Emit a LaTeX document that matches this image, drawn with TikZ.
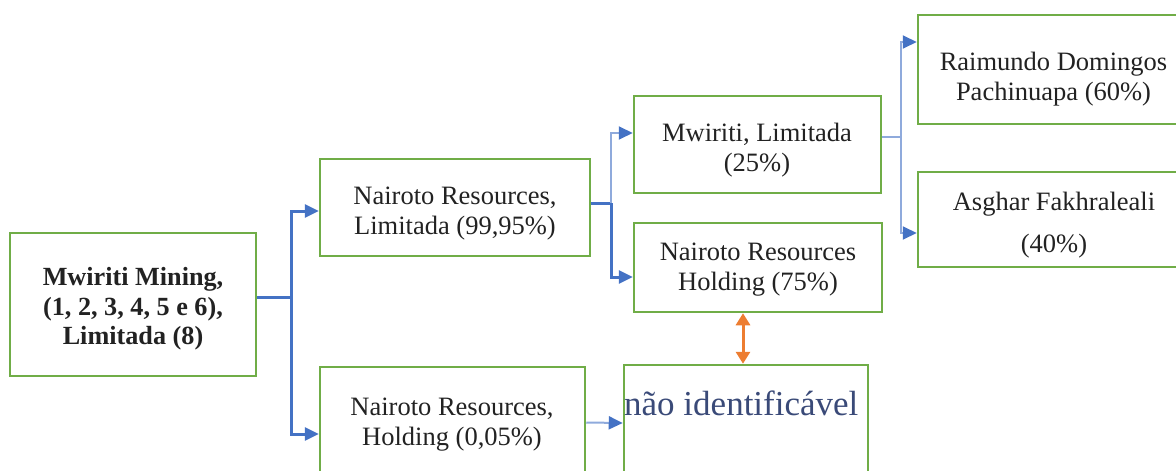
\documentclass[tikz,border=0pt]{standalone}
\usepackage{fontspec}
\setmainfont{Liberation Serif}
\usetikzlibrary{arrows.meta}
\definecolor{boxgreen}{HTML}{70AD47}
\definecolor{linkblue}{HTML}{4472C4}
\definecolor{lightblue}{HTML}{8FAADC}
\definecolor{orng}{HTML}{ED7D31}
\definecolor{txtcol}{HTML}{222222}
\definecolor{naocol}{HTML}{3A4A78}
\tikzset{
  box/.style={draw=boxgreen, line width=2.5pt, rectangle, inner sep=0pt},
  txt/.style={align=center, inner sep=0pt, text=txtcol, font=\fontsize{26.5}{30}\selectfont},
  thick link/.style={draw=linkblue, line width=3pt, -{Triangle[length=14pt,width=13pt,color=linkblue]}},
  thin link/.style={draw=lightblue, line width=2pt, -{Triangle[length=14pt,width=13pt,color=linkblue]}},
  thin line/.style={draw=lightblue, line width=2pt},
  thick line/.style={draw=linkblue, line width=3pt},
  both/.style={draw=orng, line width=3pt, {Triangle[length=12pt,width=14pt]}-{Triangle[length=12pt,width=14pt]}}
}
\begin{document}
\begin{tikzpicture}[x=1pt,y=-1pt]
\useasboundingbox (0,0) rectangle (1176,471);
% boxes
\node[box, minimum width=246pt, minimum height=143pt] (main) at (133,304.5) {};
\node[box, minimum width=270pt, minimum height=97pt] (nrl) at (455,207.5) {};
\node[box, minimum width=265pt, minimum height=106pt] (nrh05) at (452.5,420) {};
\node[box, minimum width=247pt, minimum height=97pt] (mwl) at (757.5,144.5) {};
\node[box, minimum width=248pt, minimum height=89pt] (nrh75) at (758,267.5) {};
\node[box, minimum width=272pt, minimum height=109pt] (rdp) at (1054,69.5) {};
\node[box, minimum width=272pt, minimum height=95pt] (asg) at (1054,219.5) {};
\node[box, minimum width=244pt, minimum height=111pt] (nao) at (746,420.5) {};
% texts
\node[txt, font=\fontsize{26.2}{29.5}\selectfont\bfseries] (tmain) at (133,309) {Mwiriti Mining,\\(1, 2, 3, 4, 5 e 6),\\Limitada (8)};
\node[txt] (tnrl) at (455,213.5) {Nairoto Resources,\\Limitada (99,95\%)};
\node[txt] (tnrh05) at (452,425) {Nairoto Resources,\\Holding (0,05\%)};
\node[txt] (tmwl) at (757,150) {Mwiriti, Limitada\\(25\%)};
\node[txt] (tnrh75) at (758,270) {Nairoto Resources\\Holding (75\%)};
\node[txt] (trdp) at (1053.5,79.5) {Raimundo Domingos\\Pachinuapa (60\%)};
\node[txt, font=\fontsize{26.5}{42}\selectfont] (tasg) at (1054,225) {Asghar Fakhraleali\\(40\%)};
\node[inner sep=0pt, anchor=base west, text=naocol, font=\fontsize{35}{40}\selectfont] (tnao) at (624,415) {não identificável};
% junctions
\coordinate (j1) at (291,297);
\coordinate (j2) at (611,203);
\coordinate (j3) at (901,137);
\coordinate (ox) at (743,0);
% connectors
\draw[thick line] (j1 -| main.east) -- (j1);
\draw[thick link] (j1) |- ([yshift=-3.5pt]nrl.west);
\draw[thick link] (j1) |- ([yshift=-14pt]nrh05.west);
\draw[thick line] (j2 -| nrl.east) -- (j2);
\draw[thin link] (j2) |- ([yshift=11.5pt]mwl.west);
\draw[thick link] (j2) |- ([yshift=-9.5pt]nrh75.west);
\draw[thin line] (j3 -| mwl.east) -- (j3);
\draw[thin link] (j3) |- ([yshift=27.5pt]rdp.west);
\draw[thin link] (j3) |- ([yshift=-13.5pt]asg.west);
\draw[thin link] ([yshift=-2.5pt]nrh05.east) -- ([yshift=-2.5pt]nao.west);
\draw[both] (ox |- nrh75.south) -- (ox |- nao.north);
\end{tikzpicture}
\end{document}
